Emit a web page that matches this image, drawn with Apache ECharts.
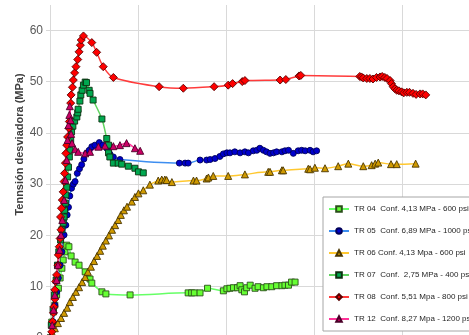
<!DOCTYPE html>
<html>
<head>
<meta charset="utf-8">
<script src="https://cdn.jsdelivr.net/npm/echarts@6/dist/echarts.min.js"></script>
<style>
  html, body { margin: 0; padding: 0; background: #fff; overflow: hidden; width: 469px; height: 335px; }
  #chart { position: absolute; left: 0; top: 5px; width: 500px; height: 340px; }
</style>
</head>
<body>
<div id="chart"></div>
<script>
// Deviator stress (MPa) against axial strain for the triaxial tests
const legendNames = [
  'TR 04  Conf. 4,13 MPa - 600 psi',
  'TR 05  Conf. 6,89 MPa - 1000 psi',
  'TR 06 Conf. 4,13 Mpa - 600 psi',
  'TR 07  Conf.  2,75 MPa - 400 psi',
  'TR 08  Conf. 5,51 Mpa - 800 psi',
  'TR 12  Conf. 8,27 Mpa - 1200 psi'
];
const yAxisTitle = 'Tennsión desviadora (MPa)';
const yTicks = [0, 10, 20, 30, 40, 50, 60, 70];
const xTicks = [0, 2, 4, 6, 8, 10];

const tr04 = [
  [0, 0], [0.04, 3.1], [0.08, 5.1], [0.11, 6.4], [0.15, 8.4], [0.19, 9.7], [0.23, 11.7],
  [0.27, 13.6], [0.30, 15.2], [0.34, 16.8], [0.38, 18.1], [0.43, 17.8], [0.48, 16.0],
  [0.57, 14.8], [0.66, 14.2], [0.80, 12.9], [0.91, 11.5], [0.95, 10.7], [1.18, 9.0],
  [1.27, 8.6], [1.82, 8.4], [3.14, 8.8], [3.22, 8.8], [3.28, 8.8], [3.41, 8.8],
  [3.58, 9.7], [3.94, 9.2], [4.02, 9.6], [4.09, 9.7], [4.17, 9.8], [4.26, 9.8],
  [4.32, 10.2], [4.36, 9.4], [4.42, 9.0], [4.47, 9.8], [4.55, 10.3], [4.66, 9.7],
  [4.73, 10.0], [4.85, 9.8], [4.93, 10.0], [5.04, 10.0], [5.15, 10.2], [5.27, 10.2],
  [5.34, 10.3], [5.42, 10.3], [5.49, 10.9], [5.57, 10.9]
];
const tr05 = [
  [0, 0], [0.075, 3.1], [0.11, 6.4], [0.15, 9.0], [0.19, 11.7], [0.23, 14.2], [0.27, 16.8],
  [0.32, 20.1], [0.36, 22.0], [0.39, 24.0], [0.42, 25.5], [0.45, 27.7], [0.49, 29.2],
  [0.53, 30.0], [0.57, 30.5], [0.62, 32.1], [0.67, 33.0], [0.72, 33.8], [0.77, 34.9],
  [0.83, 36.0], [0.89, 36.6], [0.95, 37.3], [1.02, 37.6], [1.12, 38.1], [1.20, 37.6],
  [1.29, 37.0], [1.36, 35.9], [1.44, 35.3], [1.59, 34.8], [2.94, 34.1], [3.07, 34.1],
  [3.14, 34.1], [3.41, 34.7], [3.56, 34.7], [3.64, 34.8], [3.75, 35.0], [3.86, 35.4],
  [3.94, 35.9], [4.02, 36.1], [4.09, 36.1], [4.20, 36.3], [4.32, 36.1], [4.43, 36.3],
  [4.51, 36.1], [4.62, 36.5], [4.70, 36.6], [4.77, 37.0], [4.85, 36.6], [4.92, 36.3],
  [5.00, 36.0], [5.08, 36.1], [5.15, 36.3], [5.27, 36.3], [5.34, 36.5], [5.42, 36.6],
  [5.53, 36.0], [5.64, 36.5], [5.72, 36.6], [5.80, 36.5], [5.91, 36.6], [5.98, 36.3],
  [6.06, 36.5]
];
const tr06 = [
  [0, 0], [0.05, 1.0], [0.11, 1.9], [0.18, 2.9], [0.25, 3.9], [0.32, 4.9], [0.39, 5.9],
  [0.45, 7.0], [0.52, 8.0], [0.59, 9.0], [0.66, 9.9], [0.73, 10.9], [0.80, 11.9],
  [0.86, 12.9], [0.93, 13.9], [1.00, 15.0], [1.07, 16.0], [1.14, 17.0], [1.20, 18.0],
  [1.27, 19.0], [1.34, 20.0], [1.41, 21.1], [1.48, 22.0], [1.55, 23.0], [1.61, 24.0],
  [1.68, 24.9], [1.75, 25.6], [1.86, 26.6], [1.93, 27.5], [2.01, 28.2], [2.12, 28.8],
  [2.27, 29.9], [2.46, 30.7], [2.54, 30.9], [2.61, 30.9], [2.65, 30.8], [2.77, 30.4],
  [3.26, 30.7], [3.33, 30.7], [3.56, 31.1], [3.60, 31.3], [3.71, 31.6], [4.05, 31.6],
  [4.43, 31.9], [4.96, 32.4], [5.00, 32.4], [5.27, 32.7], [5.30, 32.7], [5.87, 33.0],
  [5.91, 32.9], [6.02, 33.2], [6.25, 33.1], [6.55, 33.5], [6.78, 34.0], [7.12, 33.5],
  [7.31, 33.7], [7.39, 34.0], [7.46, 34.2], [7.75, 33.9], [7.88, 33.9], [8.31, 34.0]
];
const tr07 = [
  [0, 0], [0.03, 2.5], [0.07, 5.5], [0.10, 8.4], [0.14, 11.3], [0.17, 14.2], [0.20, 16.8],
  [0.24, 19.1], [0.27, 21.1], [0.30, 22.4], [0.32, 23.6], [0.33, 24.9], [0.35, 26.3],
  [0.36, 27.9], [0.38, 29.4], [0.40, 31.4], [0.42, 33.3], [0.44, 35.3], [0.45, 36.6],
  [0.47, 38.6], [0.49, 40.2], [0.52, 41.3], [0.56, 42.3], [0.61, 43.1], [0.63, 43.9],
  [0.64, 44.6], [0.68, 46.2], [0.70, 47.4], [0.73, 48.3], [0.76, 49.3], [0.80, 49.9],
  [0.83, 49.8], [0.89, 48.3], [0.91, 47.7], [0.98, 46.4], [1.18, 42.7], [1.29, 38.9],
  [1.33, 37.6], [1.33, 36.1], [1.36, 35.3], [1.44, 34.1], [1.55, 34.1], [1.63, 33.9],
  [1.78, 33.5], [1.93, 33.1], [2.01, 32.4], [2.12, 32.2]
];
const tr08 = [
  [0, 0], [0.04, 1.2], [0.06, 3.2], [0.08, 4.9], [0.09, 6.1], [0.11, 7.6], [0.11, 9.4],
  [0.13, 11.0], [0.15, 12.3], [0.18, 14.2], [0.19, 16.2], [0.21, 17.8], [0.23, 19.4],
  [0.25, 21.1], [0.24, 23.6], [0.26, 25.3], [0.28, 26.9], [0.30, 28.5], [0.32, 30.5],
  [0.33, 32.1], [0.35, 34.1], [0.36, 36.0], [0.38, 37.6], [0.40, 39.2], [0.43, 40.9],
  [0.44, 42.2], [0.47, 45.8], [0.48, 47.4], [0.51, 48.9], [0.53, 50.3], [0.56, 51.7],
  [0.59, 52.9], [0.63, 54.3], [0.66, 55.8], [0.69, 57.1], [0.71, 58.1], [0.76, 58.9],
  [0.95, 57.6], [1.06, 55.7], [1.21, 52.9], [1.44, 50.8], [2.48, 49.0], [3.03, 48.7],
  [3.73, 49.0], [4.05, 49.3], [4.15, 49.6], [4.37, 50.0], [4.43, 50.2], [5.23, 50.3],
  [5.36, 50.4], [5.66, 51.1], [5.70, 51.2], [7.04, 51.0], [7.08, 50.9], [7.12, 50.7],
  [7.20, 50.6], [7.27, 50.6], [7.34, 50.5], [7.42, 50.8], [7.50, 50.9], [7.55, 51.0],
  [7.61, 50.8], [7.66, 50.6], [7.73, 50.2], [7.76, 49.6], [7.80, 49.0], [7.84, 48.6],
  [7.88, 48.3], [7.93, 48.2], [7.99, 48.0], [8.04, 47.8], [8.11, 47.9], [8.17, 47.9],
  [8.25, 47.7], [8.32, 47.5], [8.41, 47.6], [8.47, 47.6], [8.54, 47.4]
];
const tr12 = [
  [0, 0], [0.05, 2.5], [0.08, 5.5], [0.11, 8.4], [0.15, 11.3], [0.18, 14.2], [0.22, 17.2],
  [0.25, 20.1], [0.28, 23.0], [0.32, 26.9], [0.35, 30.8], [0.38, 34.7], [0.40, 38.6],
  [0.42, 41.5], [0.44, 43.5], [0.45, 45.2], [0.47, 42.5], [0.48, 39.8], [0.50, 38.0],
  [0.57, 36.8], [0.64, 36.3], [0.80, 36.0], [0.91, 36.3], [1.10, 37.3], [1.25, 37.5],
  [1.44, 37.4], [1.59, 37.6], [1.74, 38.0], [1.93, 37.0], [2.05, 36.5]
];

const styles = [
  { data: tr04, symbol: 'rect',     size: 6, line: '#66FF66', fill: '#66FF33', edge: '#2A4F1A' },
  { data: tr05, symbol: 'circle',   size: 6, line: '#3D8EF0', fill: '#0000CC', edge: '#00005A' },
  { data: tr06, symbol: 'triangle', size: 7, line: '#FFC830', fill: '#D09A00', edge: '#4A3600' },
  { data: tr07, symbol: 'rect',     size: 6, line: '#5FD35F', fill: '#00A850', edge: '#0B300F' },
  { data: tr08, symbol: 'diamond',  size: 8, line: '#FF3B3B', fill: '#FF0000', edge: '#5A0000' },
  { data: tr12, symbol: 'triangle', size: 7, line: '#FF3399', fill: '#CC0066', edge: '#4A0028' }
];

const chart = echarts.init(document.getElementById('chart'), null, { renderer: 'canvas' });
const gridColor = '#D9D9D9';

chart.setOption({
  animation: false,
  backgroundColor: '#fff',
  grid: { left: 50, width: 440, top: -26, height: 359, outerBoundsMode: 'none', containLabel: false },
  xAxis: {
    type: 'value', min: xTicks[0], max: xTicks[xTicks.length - 1], interval: 2,
    axisLine: { show: true, lineStyle: { color: gridColor } },
    axisTick: { show: false },
    axisLabel: { show: false },
    splitLine: { show: true, lineStyle: { color: gridColor, width: 1 } }
  },
  yAxis: {
    type: 'value', min: yTicks[0], max: yTicks[yTicks.length - 1], interval: 10,
    axisLine: { show: true, lineStyle: { color: gridColor } },
    axisTick: { show: true, length: 4, lineStyle: { color: gridColor } },
    axisLabel: { color: '#595959', fontSize: 12, margin: 7, fontFamily: 'Liberation Sans' },
    splitLine: { show: true, lineStyle: { color: gridColor, width: 1 } }
  },
  graphic: [{
    type: 'text', x: 20, y: 139.5, rotation: Math.PI / 2,
    style: {
      text: yAxisTitle, align: 'center', verticalAlign: 'middle',
      font: 'bold 11px "Liberation Sans", Arial, sans-serif', fill: '#404040'
    }
  }],
  legend: {
    orient: 'vertical', left: 323, top: 192,
    padding: [6, 20, 6, 5], itemGap: 10, itemWidth: 20, itemHeight: 7,
    backgroundColor: '#fff', borderColor: '#A6A6A6', borderWidth: 1,
    textStyle: { fontSize: 8, color: '#262626', fontFamily: '"Liberation Sans", Arial, sans-serif', lineHeight: 12 },
    data: legendNames
  },
  series: styles.map((s, i) => ({
    name: legendNames[i],
    type: 'line',
    data: s.data,
    smooth: 0.3,
    symbol: s.symbol,
    symbolSize: s.size,
    showAllSymbol: true,
    lineStyle: { color: s.line, width: 1.5 },
    itemStyle: { color: s.fill, borderColor: s.edge, borderWidth: 0.9 },
    emphasis: { disabled: true }
  }))
});
</script>
</body>
</html>
